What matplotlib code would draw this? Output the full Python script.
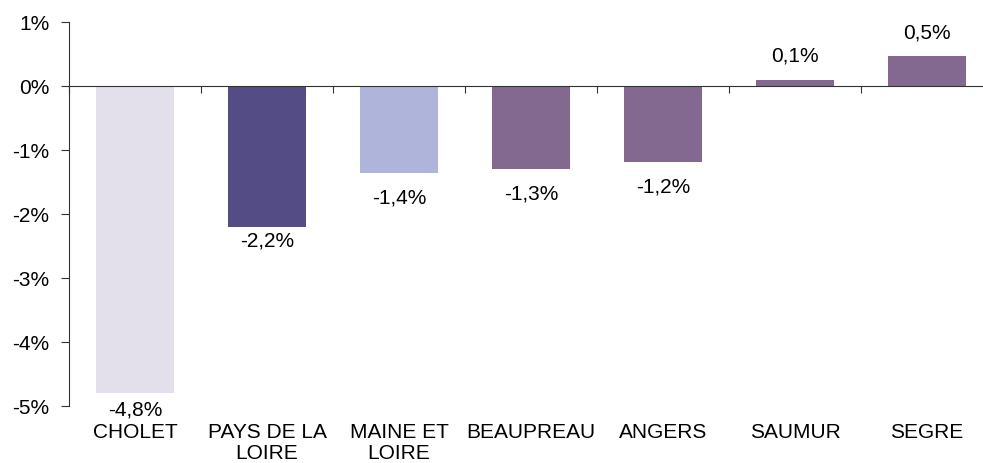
import matplotlib
matplotlib.use("Agg")
import matplotlib.pyplot as plt
from matplotlib.transforms import blended_transform_factory

categories = ["CHOLET", "PAYS DE LA\nLOIRE", "MAINE ET\nLOIRE", "BEAUPREAU", "ANGERS", "SAUMUR", "SEGRE"]
values = [-4.8, -2.2, -1.36, -1.30, -1.19, 0.1, 0.47]
value_labels = ["-4,8%", "-2,2%", "-1,4%", "-1,3%", "-1,2%", "0,1%", "0,5%"]
colors = ["#E3DFEB", "#544C84", "#AFB4DA", "#83698F", "#83698F", "#83698F", "#83698F"]
label_offsets = [-5, -3.5, -11, -11, -11, 10, 10]
yticks = [1, 0, -1, -2, -3, -4, -5]
ytick_labels = ["1%", "0%", "-1%", "-2%", "-3%", "-4%", "-5%"]

plt.rcParams['font.family'] = ['Liberation Sans', 'DejaVu Sans']
fs = 15

fig = plt.figure(figsize=(9.83, 4.63), dpi=100)
ax = fig.add_axes([69/983, 57/463, 924/983, 384/463])

x = list(range(len(categories)))
ax.bar(x, values, width=0.59, color=colors, zorder=2)
ax.set_xlim(-0.5, len(categories) - 0.5)
ax.set_ylim(-5, 1)

ax.spines['top'].set_visible(False)
ax.spines['right'].set_visible(False)
ax.spines['bottom'].set_position(('data', 0))
ax.spines['bottom'].set_color('#333333')
ax.spines['left'].set_color('#333333')
ax.spines['bottom'].set_zorder(3)

ax.set_yticks(yticks)
ax.set_yticklabels(ytick_labels, fontsize=fs)
ax.tick_params(axis='y', direction='out', length=6, color='#333333', pad=8)

ax.set_xticks([i + 0.5 for i in range(len(categories) - 1)] + [-0.5])
ax.set_xticklabels([])
ax.tick_params(axis='x', direction='out', length=5, color='#333333')

trans = blended_transform_factory(ax.transData, ax.transAxes)
for i, c in enumerate(categories):
    ax.annotate(c, xy=(i, 0), xycoords=trans, xytext=(0, -12.5), textcoords='offset points',
                ha='center', va='top', fontsize=fs, linespacing=1.12)

for i, (v, lab, off) in enumerate(zip(values, value_labels, label_offsets)):
    ax.annotate(lab, xy=(i, v), xytext=(0, off), textcoords='offset points',
                ha='center', va='top' if v < 0 else 'bottom', fontsize=fs)

fig.savefig("out.png", dpi=100)
